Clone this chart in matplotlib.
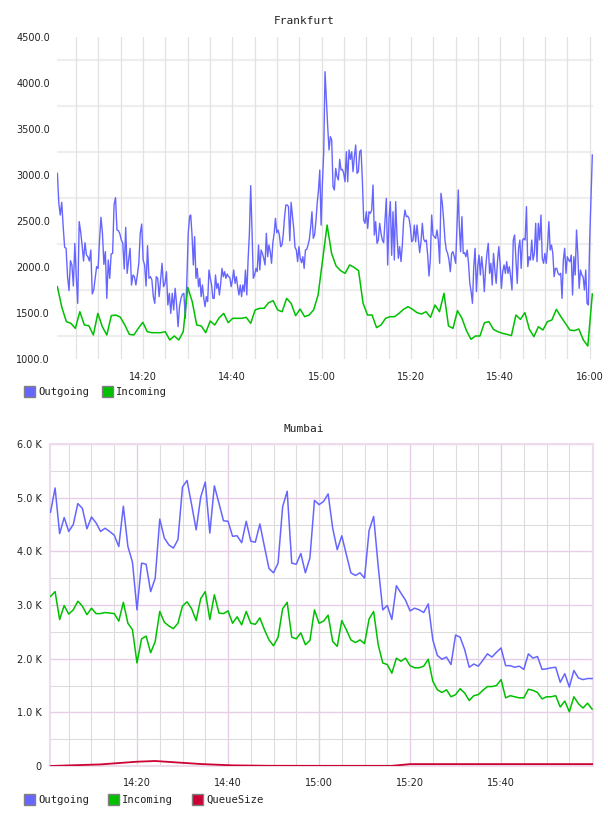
import numpy as np
import pandas as pd
import matplotlib
matplotlib.use("Agg")
import matplotlib.pyplot as plt
import matplotlib.dates as mdates
from matplotlib.patches import Rectangle
from matplotlib.ticker import FuncFormatter, MultipleLocator

DAY = "2024-01-01 "

# --- Frankfurt -------------------------------------------------------------
# outgoing is sampled densely, kept in four half-hour blocks
fra_out_spans = [("14:00:49", "14:30:27"), ("14:30:41", "15:00:28"),
                 ("15:00:46", "15:30:37"), ("15:30:50", "16:00:38")]
fra_out_1 = [3018, 2692, 2565, 2703, 2438, 2214, 2203, 1895, 1743, 2069,
             2022, 1793, 2257, 1895, 1605, 2493, 2384, 2239, 2065, 2264,
             2130, 2112, 2065, 2185, 1707, 1750, 1877, 2004, 1985, 2293,
             2540, 2366, 2029, 2167, 1659, 2076, 1877, 2141, 2148, 2681,
             2754, 2402, 2395, 2359, 2293, 2257, 1978, 2431, 1931, 2076,
             2203, 1804, 1913, 1895, 1804, 1913, 2040, 2366, 2467, 2076,
             2022, 1793, 2232, 1877, 1895, 1859, 1678, 1605, 1895, 1877,
             1678, 1859, 2040, 1786, 1822, 1949, 1587, 1714, 1496, 1714,
             1533, 1768, 1594, 1351, 1569, 1659, 1703, 1714, 1442, 1822,
             2366, 2554]
fra_out_2 = [2565, 2348, 2022, 2330, 1877, 1985, 1786, 1877, 1678, 1804,
             1659, 1569, 1678, 1623, 1967, 1877, 1804, 1659, 1659, 1913,
             1768, 1822, 1696, 1822, 1985, 1895, 1949, 1877, 1924, 1895,
             1888, 1786, 1859, 1967, 1822, 1895, 1786, 1696, 1804, 1678,
             1804, 1732, 1967, 1696, 2076, 2366, 2884, 2402, 1877, 1913,
             1985, 1949, 2239, 1967, 2185, 2148, 2094, 2022, 2366, 2112,
             2239, 2167, 2040, 2264, 2366, 2529, 2373, 2402, 2348, 2221,
             2239, 2359, 2547, 2674, 2674, 2656, 2286, 2703, 2565, 2420,
             2214, 2185, 2058, 2221, 2094, 2047, 2112, 1985, 2185, 2192,
             2239, 2301, 2431, 2601, 2312, 2348, 2493, 2692, 2837, 3054,
             2456, 2909, 3235]
fra_out_3 = [4123, 3815, 3525, 3272, 3417, 3380, 2873, 2837, 3072, 2982,
             2946, 3170, 3054, 3061, 3018, 2927, 3253, 2927, 3272, 3170,
             3253, 3036, 3199, 3326, 3018, 3036, 3253, 3272, 2946, 2511,
             2475, 2601, 2420, 2601, 2583, 2619, 2891, 2348, 2493, 2257,
             2293, 2475, 2366, 2293, 2264, 2511, 2746, 2022, 2529, 2710,
             2127, 2601, 2076, 2710, 2337, 2094, 2221, 2058, 2239, 2511,
             2619, 2547, 2554, 2529, 2438, 2275, 2293, 2456, 2275, 2456,
             2311, 2156, 2275, 2475, 2304, 2275, 2293, 2130, 1902, 2076,
             2565, 2348, 2330, 2311, 2402, 2293, 2040, 2801, 2692, 2511,
             2293, 2185, 2148, 2076, 1949, 2148, 2167, 2112, 2040, 2438,
             2837]
fra_out_4 = [2456, 2167, 2547, 2148, 2156, 2112, 2185, 2040, 1822, 1732,
             1605, 2004, 2203, 1732, 2004, 2130, 1913, 2112, 1967, 1732,
             1985, 2148, 2257, 1931, 2040, 1804, 2148, 1967, 1822, 2058,
             2221, 2040, 1768, 1949, 2022, 1931, 2058, 1931, 2004, 1895,
             1750, 2293, 2348, 2076, 1822, 2203, 2293, 1985, 2293, 2311,
             2293, 2656, 2004, 2112, 2076, 2293, 2076, 2148, 2475, 2058,
             2475, 2293, 2565, 2094, 2040, 2148, 2040, 2221, 2493, 2185,
             2239, 2148, 1895, 1985, 1985, 1931, 1913, 1931, 1659, 2076,
             2203, 1931, 2112, 2076, 2058, 2130, 1696, 2112, 1913, 2402,
             2130, 1768, 1967, 1913, 1895, 1750, 1967, 1605, 1587, 2293,
             2764, 3217]

fra_in_span = ("14:00:49", "16:00:38")
fra_in = [1786, 1560, 1406, 1388, 1333, 1514, 1370, 1362, 1261, 1496,
          1351, 1261, 1471, 1478, 1455, 1370, 1268, 1261, 1333, 1399,
          1297, 1286, 1286, 1286, 1297, 1207, 1250, 1207, 1297, 1779,
          1623, 1370, 1359, 1286, 1413, 1370, 1449, 1496, 1395, 1442,
          1442, 1442, 1453, 1388, 1533, 1551, 1551, 1612, 1634, 1533,
          1514, 1659, 1605, 1471, 1543, 1460, 1478, 1533, 1696, 2076,
          2456, 2148, 2011, 1960, 1931, 2022, 1996, 1960, 1605, 1478,
          1478, 1341, 1370, 1442, 1460, 1460, 1496, 1540, 1569, 1540,
          1504, 1489, 1514, 1453, 1587, 1514, 1714, 1359, 1333, 1525,
          1442, 1308, 1214, 1250, 1250, 1395, 1406, 1322, 1297, 1279,
          1268, 1254, 1478, 1431, 1504, 1322, 1243, 1351, 1315, 1406,
          1424, 1540, 1460, 1388, 1315, 1308, 1326, 1207, 1141, 1707]

# --- Mumbai (values in K, one sample per minute) ---------------------------
mum_span = ("14:01", "16:00")
mum_out = [4.73, 5.18, 4.33, 4.63, 4.37, 4.50, 4.89, 4.80, 4.42, 4.64,
           4.53, 4.37, 4.43, 4.37, 4.30, 4.09, 4.84, 4.09, 3.80, 2.91,
           3.78, 3.76, 3.25, 3.50, 4.60, 4.25, 4.12, 4.06, 4.22, 5.20,
           5.32, 4.87, 4.40, 5.01, 5.29, 4.34, 5.22, 4.90, 4.57, 4.56,
           4.28, 4.29, 4.16, 4.56, 4.19, 4.17, 4.51, 4.09, 3.68, 3.60,
           3.78, 4.83, 5.12, 3.78, 3.76, 3.96, 3.60, 3.88,
           4.95, 4.87, 4.93, 5.07, 4.43, 4.03, 4.29, 3.94, 3.60, 3.55,
           3.60, 3.50, 4.39, 4.65, 3.72, 2.91, 2.99, 2.73, 3.36, 3.22,
           3.09, 2.89, 2.94, 2.91, 2.86, 3.02, 2.35, 2.06, 1.99, 2.03,
           1.89, 2.44, 2.40, 2.17, 1.84, 1.90, 1.86, 1.97, 2.09, 2.03,
           2.12, 2.20, 1.87, 1.87, 1.84, 1.86, 1.80, 2.09, 2.01, 2.04,
           1.80, 1.81, 1.83, 1.84, 1.56, 1.72, 1.47, 1.78, 1.64, 1.61,
           1.63, 1.63]
mum_in = [3.16, 3.25, 2.73, 2.99, 2.83, 2.91, 3.07, 2.98, 2.82, 2.94,
          2.84, 2.84, 2.86, 2.85, 2.84, 2.70, 3.05, 2.66, 2.54, 1.92,
          2.37, 2.42, 2.11, 2.32, 2.88, 2.68, 2.61, 2.56, 2.66, 2.98,
          3.06, 2.93, 2.71, 3.12, 3.25, 2.73, 3.19, 2.85, 2.84, 2.89,
          2.66, 2.78, 2.63, 2.88, 2.66, 2.64, 2.76, 2.54, 2.35, 2.24,
          2.40, 2.93, 3.05, 2.40, 2.37, 2.48, 2.26, 2.34,
          2.91, 2.66, 2.70, 2.81, 2.32, 2.23, 2.71, 2.54, 2.35, 2.30,
          2.35, 2.28, 2.74, 2.88, 2.26, 1.92, 1.89, 1.73, 2.01, 1.95,
          2.01, 1.87, 1.83, 1.83, 1.86, 1.99, 1.58, 1.42, 1.37, 1.42,
          1.29, 1.33, 1.44, 1.36, 1.22, 1.31, 1.33, 1.41, 1.48, 1.48,
          1.50, 1.61, 1.27, 1.31, 1.29, 1.27, 1.27, 1.43, 1.41, 1.37,
          1.25, 1.29, 1.29, 1.31, 1.10, 1.21, 1.01, 1.29, 1.16, 1.08,
          1.17, 1.06]
mum_queue_t = ["14:01", "14:12", "14:20", "14:24", "14:34", "14:41", "14:49",
               "15:00", "15:16", "15:20", "16:00"]
mum_queue = [0.0, 0.03, 0.08, 0.093, 0.037, 0.012, 0.004, 0.003, 0.003,
             0.035, 0.035]

C_OUT = "#6666ff"
C_IN = "#00c000"
C_Q = "#cc0033"
MONO = "DejaVu Sans Mono"


def ts(hm):
    return pd.Timestamp(DAY + hm)


def span_times(span, n):
    return pd.date_range(ts(span[0]), ts(span[1]), periods=n)


fig = plt.figure(figsize=(6.08, 8.16), dpi=100)


def legend(y, items):
    # coloured square + label, placed in figure pixels
    for x, label, col in items:
        fig.add_artist(Rectangle((x / 608, 1 - (y + 5) / 816), 11 / 608, 11 / 816,
                                 transform=fig.transFigure, facecolor=col,
                                 edgecolor="#808080", lw=1.0))
        fig.text((x + 14) / 608, 1 - y / 816, label, family=MONO, fontsize=7.6,
                 va="center", ha="left", color="#222222")


# ---------------- Frankfurt ----------------
ax1 = fig.add_axes([57 / 608, 1 - 359 / 816, 536 / 608, 322 / 816])
out_blocks = [fra_out_1, fra_out_2, fra_out_3, fra_out_4]
out_t = np.concatenate([span_times(s, len(v)) for s, v in zip(fra_out_spans, out_blocks)])
out_v = np.concatenate(out_blocks)
ax1.plot(out_t, out_v, color=C_OUT, lw=1.0, zorder=3)
ax1.plot(span_times(fra_in_span, len(fra_in)), fra_in, color=C_IN, lw=1.1, zorder=3)

ax1.set_xlim(ts("14:00:44"), ts("16:00:47"))
ax1.set_ylim(1000, 4500)
ax1.set_yticks(np.arange(1000, 4501, 500))
ax1.yaxis.set_major_formatter(FuncFormatter(lambda v, p: f"{v:.1f}"))
for y in np.arange(1250, 4500, 500):
    ax1.axhline(y, color="#eeeeee", lw=1.6, zorder=1)
ax1.xaxis.set_major_locator(mdates.MinuteLocator(byminute=[0, 20, 40]))
ax1.xaxis.set_minor_locator(mdates.MinuteLocator(byminute=range(0, 60, 5)))
ax1.xaxis.set_major_formatter(mdates.DateFormatter("%H:%M"))
ax1.grid(True, which="both", axis="x", color="#e2e2e2", lw=0.9, zorder=1)
for s in ax1.spines.values():
    s.set_visible(False)
ax1.tick_params(which="both", length=0, labelsize=7, colors="#222222")
ax1.tick_params(axis="y", pad=5)
ax1.tick_params(axis="x", pad=9)
fig.text(0.5, 1 - 21 / 816, "Frankfurt", family=MONO, fontsize=8,
         ha="center", va="center", color="#222222")
legend(392, [(24, "Outgoing", C_OUT), (102, "Incoming", C_IN)])

# ---------------- Mumbai ----------------
ax2 = fig.add_axes([50 / 608, 1 - 766 / 816, 543 / 608, 322 / 816])
mt = span_times(mum_span, len(mum_out))
ax2.plot(mt, mum_out, color=C_OUT, lw=1.1, zorder=3)
ax2.plot(mt, mum_in, color=C_IN, lw=1.1, zorder=3)
ax2.plot([ts(t) for t in mum_queue_t], mum_queue, color=C_Q, lw=1.3, zorder=4)

ax2.set_xlim(ts("14:00:53"), ts("16:00:12"))
ax2.set_ylim(0, 6)
ax2.yaxis.set_major_locator(MultipleLocator(1))
ax2.yaxis.set_minor_locator(MultipleLocator(0.5))
ax2.yaxis.set_major_formatter(FuncFormatter(lambda v, p: "0" if v == 0 else f"{v:.1f} K"))
ax2.xaxis.set_minor_locator(mdates.MinuteLocator(byminute=range(0, 60, 5)))
ax2.xaxis.set_major_formatter(mdates.DateFormatter("%H:%M"))
# 16:00 label is not shown on this chart
ax2.set_xticks([ts("14:20"), ts("14:40"), ts("15:00"), ts("15:20"), ts("15:40")])
ax2.grid(True, which="minor", color="#dcdcdc", lw=0.8, zorder=1)
ax2.grid(True, which="major", color="#e6cfe6", lw=1.0, zorder=2)
for s in ax2.spines.values():
    s.set_color("#ecdcec")
    s.set_linewidth(1.5)
ax2.tick_params(which="both", length=0, labelsize=7, colors="#222222")
ax2.tick_params(axis="y", pad=6)
ax2.tick_params(axis="x", pad=9)
fig.text(0.5, 1 - 429 / 816, "Mumbai", family=MONO, fontsize=8,
         ha="center", va="center", color="#222222")
legend(800, [(24, "Outgoing", C_OUT), (108, "Incoming", C_IN), (192, "QueueSize", C_Q)])

fig.savefig("out.png", dpi=100, facecolor="white")
